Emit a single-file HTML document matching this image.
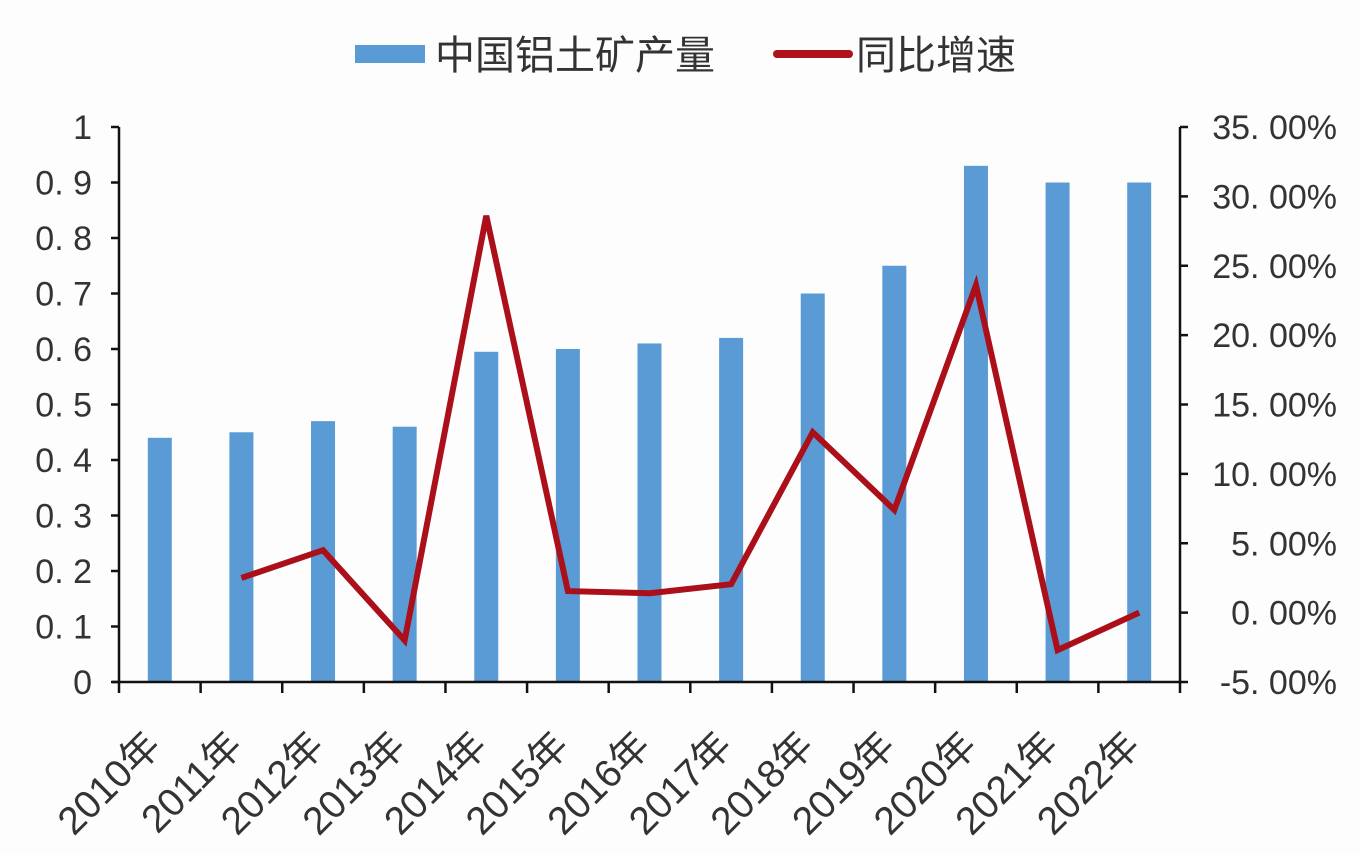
<!DOCTYPE html>
<html><head><meta charset="utf-8"><style>
body{margin:0;background:#fdfdfd;}
svg{display:block;font-family:"Liberation Sans","Noto Sans CJK SC",sans-serif;}
</style></head><body>
<svg id="chart" width="1360" height="854" viewBox="0 0 1360 854">
<g>
<rect x="355" y="45" width="70" height="18" fill="#5b9bd5"/>
<text x="435" y="69" font-size="40" fill="#333">中国铝土矿产量</text>
<line x1="777" y1="54" x2="849" y2="54" stroke="#b0121b" stroke-width="8" stroke-linecap="round"/>
<text x="856" y="69" font-size="40" fill="#333">同比增速</text>
</g>
<g id="plot"></g>
</svg>
<script>
const categories=["2010年","2011年","2012年","2013年","2014年","2015年","2016年","2017年","2018年","2019年","2020年","2021年","2022年"];
const production=[0.44,0.45,0.47,0.46,0.595,0.60,0.61,0.62,0.70,0.75,0.93,0.90,0.90];
const growth=[null,2.5,4.5,-2.0,28.6,1.55,1.4,2.05,13.0,7.4,23.6,-2.7,0.0];
const leftTicks=["0","0. 1","0. 2","0. 3","0. 4","0. 5","0. 6","0. 7","0. 8","0. 9","1"];
const rightTicks=["-5. 00%","0. 00%","5. 00%","10. 00%","15. 00%","20. 00%","25. 00%","30. 00%","35. 00%"];
const X0=119,X1=1180,Y0=682,Y1=127;
const NS="http://www.w3.org/2000/svg";
const g=document.getElementById('plot');
const step=(X1-X0)/categories.length;
const xC=i=>X0+step*(i+0.5);
const yL=v=>Y0-(v/1)*(Y0-Y1);
const yR=v=>Y0-((v+5)/40)*(Y0-Y1);
function mk(t,a){const e=document.createElementNS(NS,t);for(const k in a)e.setAttribute(k,a[k]);g.appendChild(e);return e;}
production.forEach((v,i)=>{
const r=mk('rect',{x:xC(i)-12,y:yL(v),width:24,height:Y0-yL(v),fill:'#5b9bd5'});


});
let d='';growth.forEach((v,i)=>{if(v===null)return;d+=(d?'L':'M')+xC(i)+','+yR(v);});
const ln=mk('path',{d:d,fill:'none',stroke:'#ab101a','stroke-width':6,'stroke-linejoin':'miter'});


const ax=[[X0,Y1,X0,Y0+1],[X1,Y1,X1,Y0+1],[X0-7,Y0,X1+1,Y0]];
ax.forEach(a=>{const l=mk('line',{x1:a[0],y1:a[1],x2:a[2],y2:a[3],stroke:'#111','stroke-width':2.5});

});
leftTicks.forEach((t,i)=>{const y=Y0-i*(Y0-Y1)/(leftTicks.length-1);
mk('line',{x1:X0-8,y1:y,x2:X0,y2:y,stroke:'#111','stroke-width':2.5});
const tx=mk('text',{x:92,y:y+12,'font-size':34,'text-anchor':'end',fill:'#333'});tx.textContent=t;

});
rightTicks.forEach((t,i)=>{const y=Y0-i*(Y0-Y1)/(rightTicks.length-1);
mk('line',{x1:X1,y1:y,x2:X1+8,y2:y,stroke:'#111','stroke-width':2.5});
const tx=mk('text',{x:1337,y:y+12,'font-size':34,'text-anchor':'end',fill:'#333'});tx.textContent=t;

});
for(let i=0;i<=categories.length;i++){const x=X0+i*step;mk('line',{x1:x,y1:Y0,x2:x,y2:Y0+11,stroke:'#111','stroke-width':2.5});}
categories.forEach((c,i)=>{const x=xC(i)+3,y=748;
const tx=mk('text',{x:x,y:y,'font-size':39,'text-anchor':'end',fill:'#333',transform:`rotate(-45 ${x} ${y})`});tx.textContent=c;

});
</script>
</body></html>
